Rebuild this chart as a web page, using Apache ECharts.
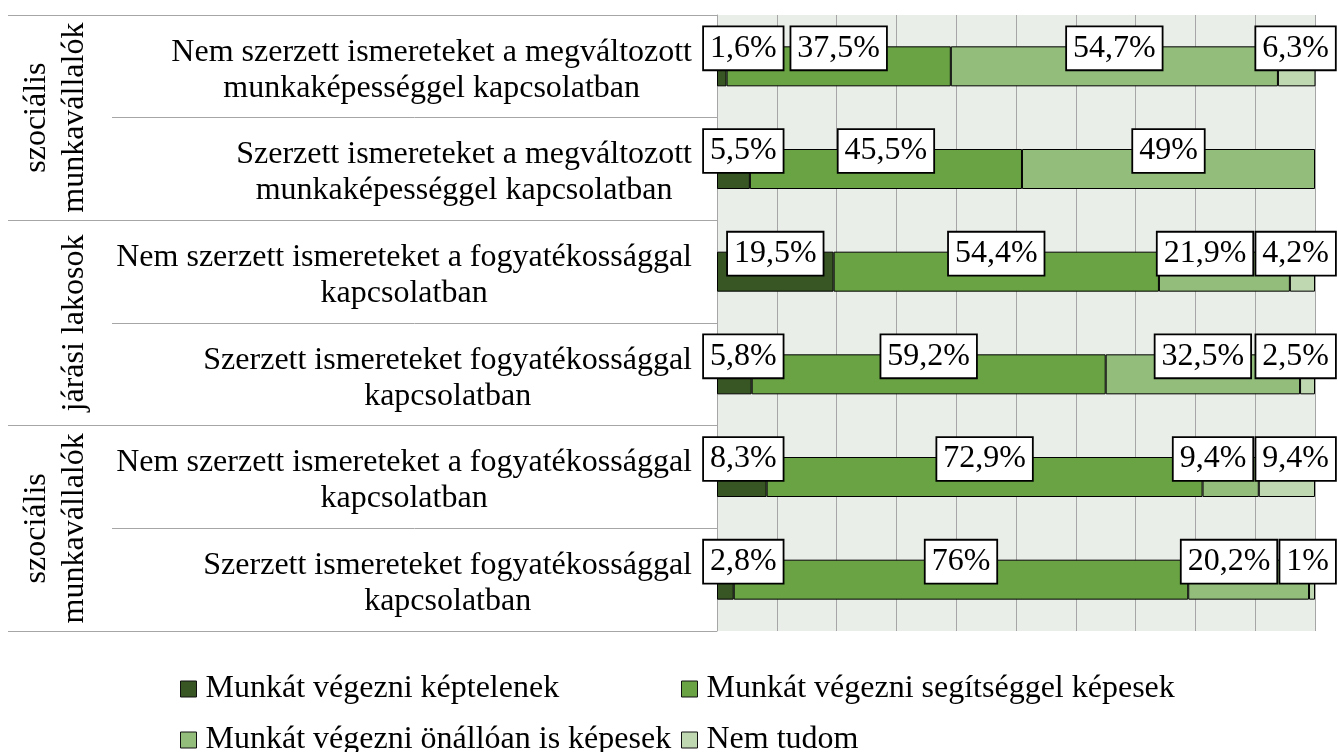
<!DOCTYPE html>
<html>
<head>
<meta charset="utf-8">
<script src="https://cdn.jsdelivr.net/npm/echarts@6/dist/echarts.min.js"></script>
<style>
  html, body { margin: 0; padding: 0; background: #fff; }
  #chart { width: 1338px; height: 752px; }
</style>
</head>
<body>
<div id="chart"></div>
<script>
// kategóriák (felülről lefelé)
const categories = [
    'Nem szerzett ismereteket a megváltozott\nmunkaképességgel kapcsolatban',
    'Szerzett ismereteket a megváltozott\nmunkaképességgel kapcsolatban',
    'Nem szerzett ismereteket a fogyatékossággal\nkapcsolatban',
    'Szerzett ismereteket fogyatékossággal\nkapcsolatban',
    'Nem szerzett ismereteket a fogyatékossággal\nkapcsolatban',
    'Szerzett ismereteket fogyatékossággal\nkapcsolatban'
];
// csoportok (2-2 kategória)
const groups = ['szociális\nmunkavállalók', 'járási lakosok', 'szociális\nmunkavállalók'];

const seriesNames = [
    'Munkát végezni képtelenek',
    'Munkát végezni segítséggel képesek',
    'Munkát végezni önállóan is képesek',
    'Nem tudom'
];
const keptelenek = [1.6, 5.5, 19.5, 5.8, 8.3, 2.8];
const segitseggel = [37.5, 45.5, 54.4, 59.2, 72.9, 76];
const onalloan = [54.7, 49, 21.9, 32.5, 9.4, 20.2];
const nemTudom = [6.3, null, 4.2, 2.5, 9.4, 1];
const seriesValues = [keptelenek, segitseggel, onalloan, nemTudom];

const colors = ['#375623', '#69A343', '#93BD7B', '#BFD8B2'];
const FONT = '"Liberation Serif", "Times New Roman", serif';

const chart = echarts.init(document.getElementById('chart'));

// címke szöveg: tizedesvessző
function fmt(v) {
    return String(v).replace('.', ',') + '%';
}

// címkedobozok szélességének mérése
const ctx = document.createElement('canvas').getContext('2d');
ctx.font = '32px ' + FONT;
function boxWidth(txt) {
    return ctx.measureText(txt).width + 2 * 6 + 2;
}

// egy sor címkéinek elrendezése, hogy ne fedjék egymást
function layoutRow(row, plotLeft, pxPerPct) {
    const items = [];
    let cum = 0;
    seriesValues.forEach(function (arr, s) {
        const v = arr[row];
        if (v == null) return;
        const w = boxWidth(fmt(v));
        const c = plotLeft + (cum + v / 2) * pxPerPct;
        items.push({ s: s, w: w, left: c - w / 2 });
        cum += v;
    });
    const minLeft = plotLeft - 14;
    const maxRight = plotLeft + 100 * pxPerPct + 21;
    const gap = 2;
    let prevRight = minLeft - gap;
    items.forEach(function (it) {
        if (it.left < prevRight + gap) it.left = prevRight + gap;
        prevRight = it.left + it.w;
    });
    let nextLeft = maxRight + gap;
    for (let k = items.length - 1; k >= 0; k--) {
        const it = items[k];
        if (it.left + it.w > nextLeft - gap) it.left = nextLeft - gap - it.w;
        nextLeft = it.left;
    }
    const out = {};
    items.forEach(function (it) { out[it.s] = it.left + it.w / 2; });
    return out;
}

function labelLayout(p) {
    const s = p.seriesIndex;
    const i = p.dataIndex;
    const v = seriesValues[s][i];
    const pxPerPct = Math.abs(p.rect.width) / v;
    let before = 0;
    for (let k = 0; k < s; k++) before += seriesValues[k][i] || 0;
    const plotLeft = Math.min(p.rect.x, p.rect.x + p.rect.width) - before * pxPerPct;
    const pos = layoutRow(i, plotLeft, pxPerPct);
    return {
        x: pos[s],
        y: p.rect.y + p.rect.height / 2 - 18,
        align: 'center',
        verticalAlign: 'middle'
    };
}

const series = seriesValues.map(function (arr, s) {
    return {
        name: seriesNames[s],
        type: 'bar',
        stack: 'total',
        barWidth: 40,
        data: arr,
        itemStyle: { color: colors[s], borderColor: '#000', borderWidth: 1 },
        label: {
            show: true,
            position: 'inside',
            formatter: function (p) { return fmt(p.value); },
            fontFamily: FONT,
            fontSize: 32,
            lineHeight: 32,
            color: '#000',
            backgroundColor: '#fff',
            borderColor: '#000',
            borderWidth: 1.8,
            padding: [5, 6]
        },
        labelLayout: labelLayout,
        emphasis: { disabled: true }
    };
});

function legendBox(left, names) {
    return {
        orient: 'vertical',
        left: left,
        top: 673,
        height: 120,
        padding: 0,
        itemGap: 19,
        itemWidth: 16,
        itemHeight: 16,
        icon: 'rect',
        itemStyle: { borderColor: '#111', borderWidth: 1 },
        textStyle: { fontFamily: FONT, fontSize: 32, color: '#000', padding: [0, 0, 0, 4] },
        data: names
    };
}

const option = {
    animation: false,
    textStyle: { fontFamily: FONT },
    grid: {
        left: 717,
        right: 23,
        top: 15,
        bottom: 121,
        show: true,
        backgroundColor: '#EAEEE8',
        borderWidth: 0
    },
    legend: [
        legendBox(180, [seriesNames[0], seriesNames[2]]),
        legendBox(681, [seriesNames[1], seriesNames[3]])
    ],
    xAxis: {
        type: 'value',
        min: 0,
        max: 100,
        interval: 10,
        axisLabel: { show: false },
        axisLine: { show: false },
        axisTick: { show: false },
        splitLine: { show: true, lineStyle: { color: '#A6A6A6', width: 1 } }
    },
    yAxis: [
        {
            type: 'category',
            inverse: true,
            position: 'left',
            data: categories,
            axisLine: { show: true, lineStyle: { color: '#A6A6A6', width: 1 } },
            axisTick: { show: true, interval: 0, length: 605, lineStyle: { color: '#A6A6A6' } },
            axisLabel: {
                interval: 0,
                margin: 25,
                padding: [8, 0, 0, 0],
                formatter: function (v) {
                    return v.split('\n').map(function (l) { return '{c|' + l + '}'; }).join('\n');
                },
                rich: {
                    c: { align: 'center', fontFamily: FONT, fontSize: 32, lineHeight: 36, color: '#000' }
                }
            },
            splitLine: { show: false }
        },
        {
            type: 'category',
            inverse: true,
            position: 'left',
            data: groups,
            axisLine: { show: false },
            axisTick: { show: true, interval: 0, length: 709, lineStyle: { color: '#A6A6A6' } },
            axisLabel: {
                interval: 0,
                rotate: 90,
                margin: 623,
                fontFamily: FONT,
                fontSize: 32,
                lineHeight: 38,
                color: '#000'
            },
            splitLine: { show: false }
        }
    ],
    series: series
};

chart.setOption(option);
window.addEventListener('resize', function () {
    chart.resize();
});
</script>
</body>
</html>
